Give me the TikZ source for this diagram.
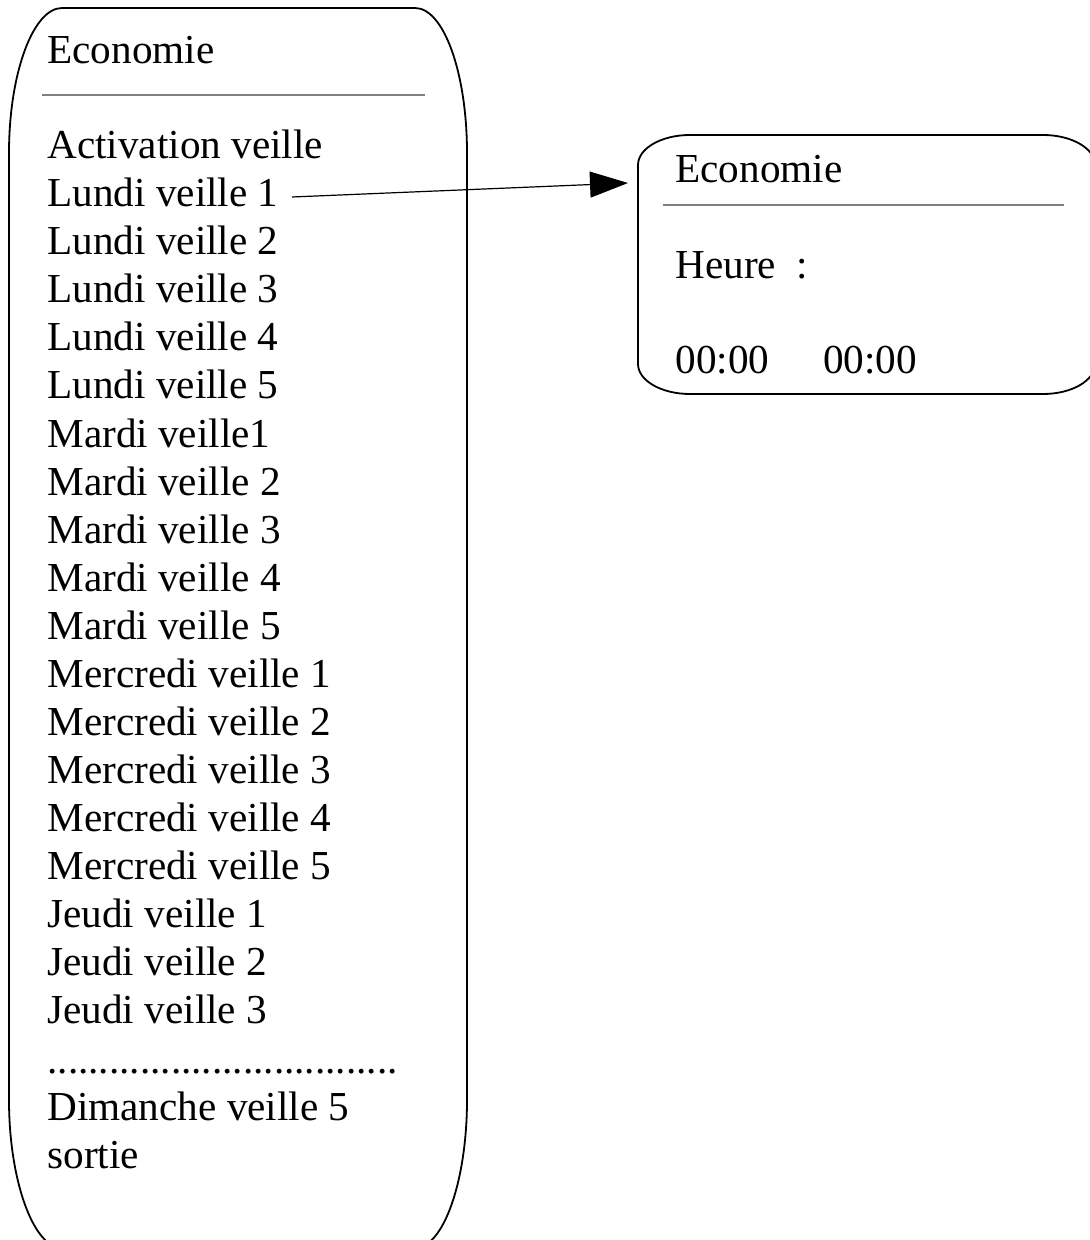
\documentclass[tikz,border=0pt]{standalone}
\usepackage{fontspec}
\setmainfont{Liberation Serif}
\usetikzlibrary{arrows.meta}
\begin{document}
\begin{tikzpicture}[x=0.5pt,y=-0.5pt,
  frame/.style={line width=0.9pt, black},
  rule/.style={line width=0.6pt, gray},
  item/.style={anchor=base west, inner sep=0pt, font=\fontsize{20.6}{24}\selectfont},
  link/.style={line width=0.6pt, black, -{Triangle[length=19pt,width=13pt]}}]
\useasboundingbox (0,0) rectangle (1089,1240);

% menu list panel
\draw[frame] (62,8) -- (415,8)
  .. controls (443.7,8) and (467,72.9) .. (467,153) -- (467,1100)
  .. controls (467,1180) and (443.7,1248) .. (415,1248) -- (62,1248)
  .. controls (33.3,1248) and (9,1180) .. (9,1100) -- (9,153)
  .. controls (9,72.9) and (33.3,8) .. cycle;
\node[item] (mtitle) at (47,64) {Economie};
\draw[rule] (42,95) -- (425,95);
\foreach \t [count=\i] in {Activation veille, Lundi veille 1, Lundi veille 2,
  Lundi veille 3, Lundi veille 4, Lundi veille 5, Mardi veille1, Mardi veille 2,
  Mardi veille 3, Mardi veille 4, Mardi veille 5, Mercredi veille 1,
  Mercredi veille 2, Mercredi veille 3, Mercredi veille 4, Mercredi veille 5,
  Jeudi veille 1, Jeudi veille 2, Jeudi veille 3}
  \node[item] (m\i) at (47,{159+48*(\i-1)}) {\t};
\node[item] (mdots) at (47,1073) {..................................};
\node[item] (mdim) at (47,1120) {Dimanche veille 5};
\node[item] (mexit) at (47,1168) {sortie};

% time setting panel
\draw[frame] (690,135) -- (1043,135)
  .. controls (1071.7,135) and (1095,148.4) .. (1095,165) -- (1095,364)
  .. controls (1095,380.6) and (1071.7,394) .. (1043,394) -- (690,394)
  .. controls (661.3,394) and (638,380.6) .. (638,364) -- (638,165)
  .. controls (638,148.4) and (661.3,135) .. cycle;
\node[item] (ptitle) at (675,183) {Economie};
\draw[rule] (663,205) -- (1064,205);
\node[item] (phour) at (675,279) {Heure\ \ :};
\node[item] (ptimes) at (675,374) {00:00\hspace{27pt}00:00};

% link from the menu entry to the panel
\coordinate (linkstart) at (292,197);
\coordinate (linkend) at (628,183);
\draw[link] (linkstart) -- (linkend);
\end{tikzpicture}
\end{document}
